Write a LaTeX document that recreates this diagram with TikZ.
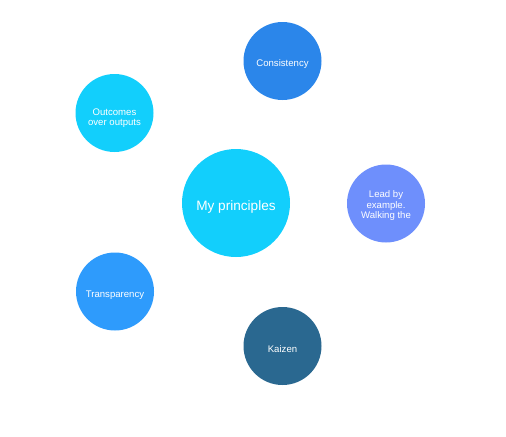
\documentclass[tikz,border=0pt]{standalone}
\usepackage{fontspec}
\setmainfont{Liberation Sans}
\usetikzlibrary{positioning}
\definecolor{pCyan}{HTML}{12CFFC}
\definecolor{pBlue}{HTML}{2B86EA}
\definecolor{pSky}{HTML}{2E9BFC}
\definecolor{pLilac}{HTML}{6E8FFC}
\definecolor{pSteel}{HTML}{2A6890}

\begin{document}
\begin{tikzpicture}[x=0.75pt, y=-0.75pt,
    bubble/.style={circle, inner sep=0pt, minimum size=58.5pt},
    caption/.style={inner sep=0pt, text=white, align=center, font=\fontsize{7.2}{7.9}\selectfont}]
    \useasboundingbox (0,0) rectangle (506,436);
    \node[bubble, minimum size=81pt, fill=pCyan] (core) at (236,203) {};
    \node[caption, font=\fontsize{10.2}{12}\selectfont] (core-txt) at ([yshift=-3pt] core.center) {My principles};
    \foreach \n/\x/\y/\c/\s/\t in {consistency/282.5/61/pBlue/1.9pt/{Consistency},
        outcomes/114.5/113/pCyan/4pt/{Outcomes\\over outputs},
        lead/386/203.5/pLilac/1.6pt/{Lead by\\example.\\Walking the},
        transparency/115/291.5/pSky/2.6pt/{Transparency},
        kaizen/282.5/346/pSteel/2pt/{Kaizen}} {
      \node[bubble, fill=\c] (\n) at (\x,\y) {};
      \node[caption] (\n-txt) at ([yshift=-\s] \n.center) {\t};
    }
  \end{tikzpicture}
\end{document}
